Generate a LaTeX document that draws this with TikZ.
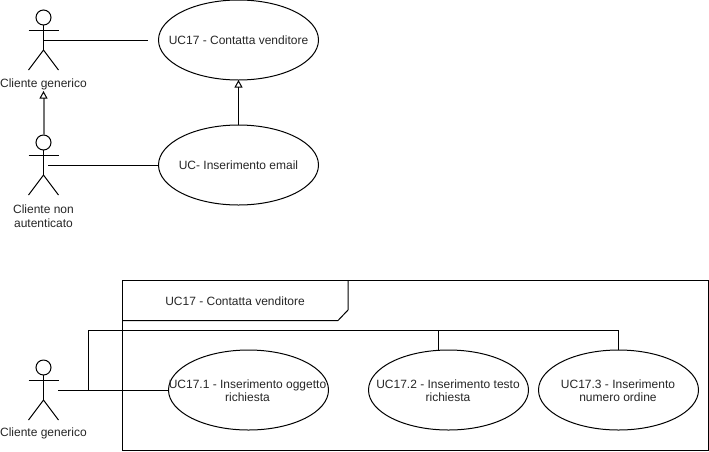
\documentclass[tikz,border=0pt]{standalone}
\usepackage{fontspec}
\setmainfont{Liberation Sans}
\usetikzlibrary{arrows.meta,shapes.geometric}
\tikzset{
  every node/.style={font=\fontsize{12}{13.5}\selectfont,text=black!85,align=center},
  caso/.style={draw,ellipse,inner sep=0pt,outer sep=0pt,minimum width=160pt,minimum height=80pt},
  eredita/.style={-{Triangle[open,length=7.5pt,width=8pt,line width=1pt,color=black]}},
  attore/.pic={
    \node[draw,circle,inner sep=0pt,outer sep=0pt,minimum size=15pt] (-testa) at (0,0) {};
    \draw (-15,12.5) -- (15,12.5);
    \draw (-testa) -- (0,32.5) coordinate (-anca);
    \draw (-15,52.5) -- (-anca) -- (15,52.5);
  }
}
\begin{document}
\begin{tikzpicture}[x=1pt,y=-1pt,line width=1pt]
\useasboundingbox (0,0) rectangle (709,451);
% Attori
\pic (att1) at (43.5,17.5) {attore};
\pic (att2) at (43.5,142.5) {attore};
\pic (att3) at (43.5,367.5) {attore};
\node (nome1) at (43.5,84.5) {Cliente generico};
\node (nome2) at (43.5,216) {Cliente non\\autenticato};
\node (nome3) at (43.5,433.5) {Cliente generico};
% Casi d'uso in alto
\node[caso] (uc17) at (238.5,40) {};
\node at (238.5,40.5) {UC17 - Contatta venditore};
\node[caso] (ucmail) at (238.5,165) {};
\node at (238.5,165.5) {UC- Inserimento email};
\coordinate (p1) at (43.5,40);
\coordinate (p2) at (148,40);
\coordinate (p3) at (48,165);
\coordinate (p4) at (43.5,91);
\draw (p1) -- (p2);
\draw (p3) -- (ucmail);
\draw[eredita] (ucmail) -- (uc17);
\draw[eredita,draw=black!55,line width=2pt] (att2-testa) -- (p4);
% Riquadro
\node[draw,minimum width=585.5pt,minimum height=170pt,inner sep=0pt,outer sep=0pt] (frame) at (415.25,365) {};
\coordinate (t1) at (348,280);
\coordinate (t2) at (348,310);
\coordinate (t3) at (338,320.5);
\coordinate (t4) at (122.5,320.5);
\draw (t1) -- (t2) -- (t3) -- (t4);
\node (titolo) at (235,301) {UC17 - Contatta venditore};
% Casi d'uso in basso
\node[caso] (uc1) at (248.5,390) {};
\node at (247.5,390.5) {UC17.1 - Inserimento oggetto\\richiesta};
\node[caso] (uc2) at (448.5,390) {};
\node at (448,390.5) {UC17.2 - Inserimento testo\\richiesta};
\node[caso] (uc3) at (618.5,390) {};
\node at (618,390.5) {UC17.3 - Inserimento\\numero ordine};
\coordinate (p5) at (58,390);
\coordinate (p6) at (88.5,390);
\coordinate (p7) at (88.5,330.5);
\coordinate (p8) at (438.5,330.5);
\coordinate (p9) at (618.5,330.5);
\coordinate (p10) at (438.5,350.5);
\draw (p5) -- (uc1);
\draw (p6) -- (p7) -- (p9) -- (uc3);
\draw (p8) -- (p10);
\end{tikzpicture}
\end{document}
